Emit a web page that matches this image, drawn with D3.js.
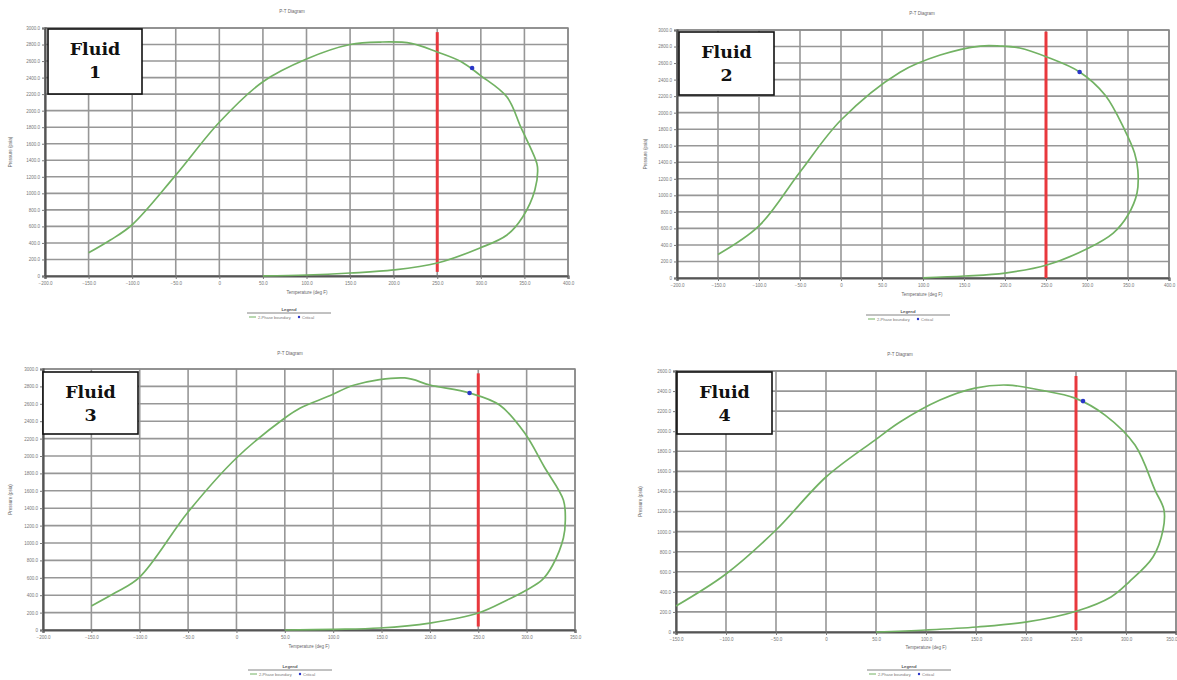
<!DOCTYPE html>
<html><head><meta charset="utf-8">
<script src="https://cdn.jsdelivr.net/npm/d3@7"></script>
<style>html,body{margin:0;padding:0;background:#fff;}svg{display:block;}</style>
</head><body>
<svg id="c" width="1177" height="680"></svg>
<script>
// ---- data ----
const fluidNames = ["Fluid 1", "Fluid 2", "Fluid 3", "Fluid 4"];
const fluid1T = [-150,-125,-100,-50,0,50,100,150,185,220,250,278,299,330,346,362,365,362,348,330,299,250,200,150,100,50];
const fluid1P = [280,435,620,1220,1860,2350,2625,2800,2830,2815,2710,2590,2430,2165,1798,1430,1320,1040,714,496,339,157,73,36,12,2];
const fluid2T = [-150,-100,-50,0,72,121,170,194,218,251,291,322,346,358,362,361,350,332,302,251,200,151,100];
const fluid2P = [285,630,1282,1911,2490,2697,2806,2806,2782,2673,2492,2213,1790,1512,1306,1028,762,544,363,157,60,24,2];
const fluid3T = [-150,-125,-100,-50,0,50,66,97,122,174,200,241,272,298,318,338,340,338,327,316,300,280,250,200,148,100,50];
const fluid3P = [276,430,609,1356,1977,2437,2552,2695,2816,2897,2816,2724,2586,2264,1879,1494,1264,1057,747,575,460,345,195,80,23,8,0];
const fluid4T = [-150,-100,-50,0,49,74,114,149,182,214,249,279,309,329,338,337,327,303,285,251,201,151,100,50];
const fluid4P = [259,578,1016,1544,1912,2092,2311,2430,2460,2410,2330,2161,1862,1414,1215,1016,747,498,349,209,100,50,20,0];
const criticalT = [290, 291, 241, 257];
const criticalP = [2516, 2492, 2724, 2300];
const reservoirT = [250, 250, 250, 250];
const reservoirPRange = [[50, 2950], [0, 2980], [40, 2950], [20, 2550]];
const xDomains = [[-200, 400], [-200, 400], [-200, 350], [-150, 350]];
const yDomains = [[0, 3000], [0, 3000], [0, 3000], [0, 2600]];
const chartTitle = "P-T Diagram";
const xTitle = "Temperature (deg F)";
const yTitle = "Pressure (psia)";
const legendTitle = "Legend";
const legendItems = ["2-Phase boundary", "Critical"];

const seriesT = [fluid1T, fluid2T, fluid3T, fluid4T];
const seriesP = [fluid1P, fluid2P, fluid3P, fluid4P];

// ---- layout ----
const panels = [
  {l:45, r:568, t:28, b:276, titleX:292, titleY:13, xtX:307, xtY:294, ytX:12, legX:289, legY:311, box:[48,29,94,65]},
  {l:677, r:1169, t:30, b:278, titleX:922, titleY:15, xtX:922, xtY:296, ytX:647, legX:908, legY:313, box:[679,32,95,63]},
  {l:43, r:575, t:369, b:630, titleX:290, titleY:355, xtX:309, xtY:648, ytX:12, legX:290, legY:668, box:[43,372,95,62]},
  {l:676, r:1176, t:371, b:632, titleX:900, titleY:356, xtX:926, xtY:649, ytX:642, legX:909, legY:668, box:[677,372,95,62]}
];

const svg = d3.select("#c");
const green = "#72b263", red = "#e8383d", blue = "#2a36c8", grid = "#979797", axisC = "#555";

panels.forEach((p, i) => {
  const g = svg.append("g");
  const x = d3.scaleLinear().domain(xDomains[i]).range([p.l, p.r]);
  const y = d3.scaleLinear().domain(yDomains[i]).range([p.b, p.t]);
  const xt = d3.range(xDomains[i][0], xDomains[i][1] + 1, 50);
  const yt = d3.range(yDomains[i][0], yDomains[i][1] + 1, 200);
  const fmt = d => d === 0 ? "0" : d3.format(".1f")(d);

  // grid
  g.append("g").selectAll("line").data(xt).join("line")
    .attr("x1", d => x(d)).attr("x2", d => x(d)).attr("y1", p.t).attr("y2", p.b)
    .attr("stroke", grid).attr("stroke-width", 1.6);
  g.append("g").selectAll("line").data(yt).join("line")
    .attr("x1", p.l).attr("x2", p.r).attr("y1", d => y(d)).attr("y2", d => y(d))
    .attr("stroke", grid).attr("stroke-width", 1.6);
  g.append("rect").attr("x", p.l).attr("y", p.t).attr("width", p.r - p.l).attr("height", p.b - p.t)
    .attr("fill", "none").attr("stroke", "#888").attr("stroke-width", 1.5);

  // axes
  const ax = g.append("g").attr("transform", `translate(0,${p.b})`)
    .call(d3.axisBottom(x).tickValues(xt).tickFormat(fmt).tickSize(3).tickPadding(3));
  const ay = g.append("g").attr("transform", `translate(${p.l},0)`)
    .call(d3.axisLeft(y).tickValues(yt).tickFormat(fmt).tickSize(3).tickPadding(2));
  [ax, ay].forEach(a => {
    a.select(".domain").attr("stroke", axisC).attr("stroke-width", 2.2);
    a.selectAll(".tick line").attr("stroke", "#777");
    a.selectAll("text").attr("font-size", 4.5).attr("fill", "#777").attr("font-family", "Arial, Liberation Sans, sans-serif");
  });
  // keep the last x label inside the page
  ax.selectAll(".tick text").filter(d => x(d) + 8 > 1177).attr("text-anchor", "end").attr("dx", 1);

  // red reservoir temperature line
  g.append("line").attr("x1", x(reservoirT[i])).attr("x2", x(reservoirT[i]))
    .attr("y1", y(reservoirPRange[i][1])).attr("y2", y(reservoirPRange[i][0]))
    .attr("stroke", red).attr("stroke-width", 3);

  // envelope
  const pts = seriesT[i].map((t, k) => [t, seriesP[i][k]]);
  g.append("path").datum(pts)
    .attr("d", d3.line().curve(d3.curveCatmullRom.alpha(0.5)).x(d => x(d[0])).y(d => y(d[1])))
    .attr("fill", "none").attr("stroke", green).attr("stroke-width", 1.7).attr("stroke-linejoin", "round");

  // critical point
  g.append("circle").attr("cx", x(criticalT[i])).attr("cy", y(criticalP[i])).attr("r", 2.3).attr("fill", blue);

  // titles
  const small = {"font-family": "Arial, Liberation Sans, sans-serif", "fill": "#666", "font-size": 4.5};
  const tt = g.append("text").attr("x", p.titleX).attr("y", p.titleY).attr("text-anchor", "middle").text(chartTitle);
  const xtt = g.append("text").attr("x", p.xtX).attr("y", p.xtY).attr("text-anchor", "middle").text(xTitle);
  const ytt = g.append("text").attr("transform", `translate(${p.ytX},${(p.t + p.b) / 2}) rotate(-90)`).attr("text-anchor", "middle").text(yTitle);
  [tt, xtt, ytt].forEach(s => Object.entries(small).forEach(([k, v]) => s.attr(k, v)));

  // legend
  const lg = g.append("g").attr("transform", `translate(${p.legX},${p.legY})`);
  lg.append("text").attr("x", 0).attr("y", 0).attr("text-anchor", "middle").attr("font-size", 4.2)
    .attr("font-weight", "bold").attr("fill", "#555").attr("font-family", "Arial, sans-serif").text(legendTitle);
  lg.append("line").attr("x1", -42).attr("x2", 42).attr("y1", 2).attr("y2", 2).attr("stroke", "#666").attr("stroke-width", 0.8);
  lg.append("line").attr("x1", -40).attr("x2", -33).attr("y1", 6).attr("y2", 6).attr("stroke", green).attr("stroke-width", 1);
  lg.append("text").attr("x", -31).attr("y", 7.5).attr("font-size", 4).attr("fill", "#777").attr("font-family", "Arial, sans-serif").text(legendItems[0]);
  lg.append("circle").attr("cx", 10).attr("cy", 6).attr("r", 1.2).attr("fill", blue);
  lg.append("text").attr("x", 13).attr("y", 7.5).attr("font-size", 4).attr("fill", "#777").attr("font-family", "Arial, sans-serif").text(legendItems[1]);

  // fluid label box
  const [bx, by, bw, bh] = p.box;
  g.append("rect").attr("x", bx).attr("y", by).attr("width", bw).attr("height", bh)
    .attr("fill", "#fff").attr("stroke", "#111").attr("stroke-width", 1.6);
  const parts = fluidNames[i].split(" ");
  g.append("text").attr("x", bx + bw / 2).attr("y", by + 26).attr("text-anchor", "middle")
    .attr("font-family", "DejaVu Serif, serif").attr("font-weight", "bold").attr("font-size", 17.5).attr("fill", "#111").text(parts[0]);
  g.append("text").attr("x", bx + bw / 2).attr("y", by + 49).attr("text-anchor", "middle")
    .attr("font-family", "DejaVu Serif, serif").attr("font-weight", "bold").attr("font-size", 17.5).attr("fill", "#111").text(parts[1]);
});
</script>
</body></html>
